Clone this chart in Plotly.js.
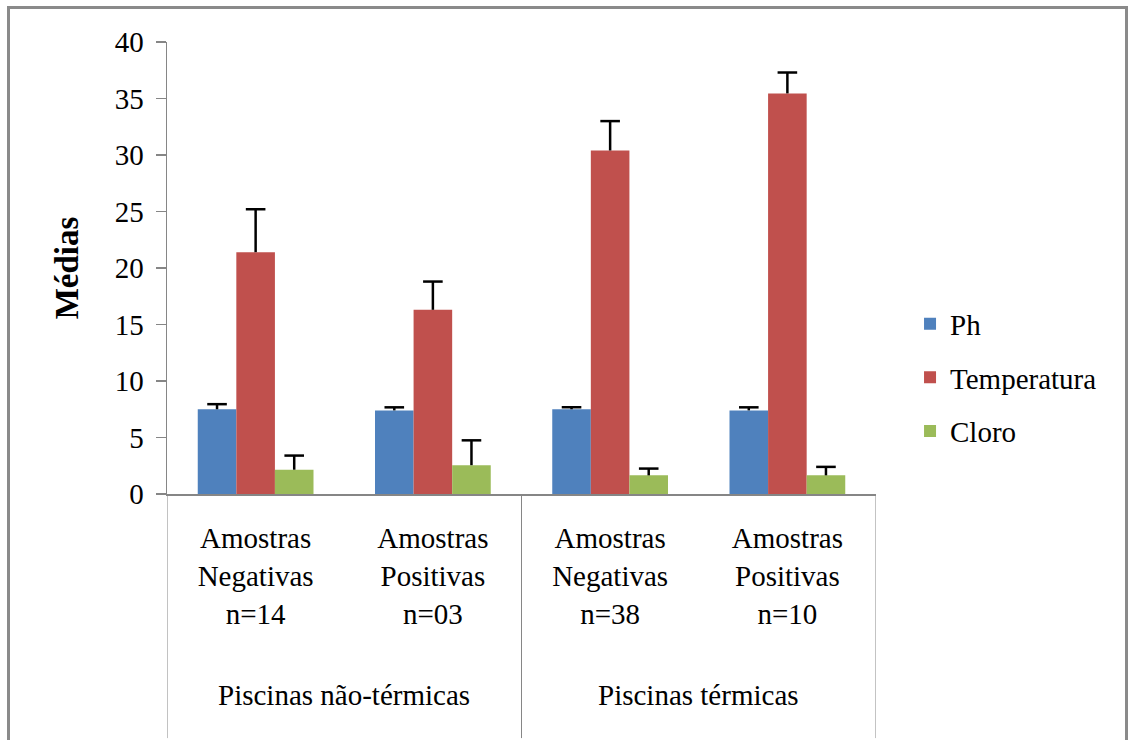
<!DOCTYPE html>
<html>
<head>
<meta charset="utf-8">
<script src="https://cdn.plot.ly/plotly-3.0.1.min.js"></script>
<style>
  html, body { margin: 0; padding: 0; background: #fff; }
  #chart { position: absolute; left: 0; top: 0; width: 1135px; height: 740px; }
  #frame { position: absolute; left: 7px; top: 6px; width: 1121px; height: 760px;
           border: 3px solid #8a8a8a; pointer-events: none; box-sizing: border-box; }
</style>
</head>
<body>
<div id="chart"></div>
<div id="frame"></div>
<script>
const categories = [
  "Amostras<br>Negativas<br>n=14",
  "Amostras<br>Positivas<br>n=03",
  "Amostras<br>Negativas<br>n=38",
  "Amostras<br>Positivas<br>n=10"
];
const groups = ["Piscinas não-térmicas", "Piscinas térmicas"];
const groupCenters = [0.5, 2.5];
const groupDividers = [-0.5, 1.5, 3.5];

const seriesNames = ["Ph", "Temperatura", "Cloro"];
const phValues = [7.5, 7.4, 7.5, 7.4];
const phErrors = [0.45, 0.27, 0.18, 0.27];
const tempValues = [21.4, 16.3, 30.4, 35.45];
const tempErrors = [3.8, 2.5, 2.6, 1.85];
const cloroValues = [2.15, 2.55, 1.65, 1.65];
const cloroErrors = [1.25, 2.2, 0.6, 0.75];
const colors = ["#4F81BD", "#C0504D", "#9BBB59"];

const FONT = "Liberation Serif";
const FS = 29;
const values = [phValues, tempValues, cloroValues];
const errors = [phErrors, tempErrors, cloroErrors];

const barTraces = seriesNames.map((name, i) => ({
  type: "bar",
  name: name,
  x: categories,
  y: values[i],
  legendgroup: "g" + i,
  marker: { color: colors[i], line: { width: 0 } },
  error_y: {
    type: "data", array: errors[i], arrayminus: errors[i].map(() => 0),
    symmetric: false, color: "#000", thickness: 2.5, width: 0, visible: true
  },
  hoverinfo: "skip"
}));

// caps of the error bars (top only), grouped like the bars
const capTraces = seriesNames.map((name, i) => ({
  type: "scatter",
  mode: "markers",
  name: name + " cap",
  x: categories,
  y: values[i].map((v, k) => v + errors[i][k]),
  showlegend: false,
  marker: { symbol: "line-ew", size: 14, color: "#000", line: { color: "#000", width: 2.5 } },
  hoverinfo: "skip"
}));

const shapes = groupDividers.map(x => ({
  type: "line", xref: "x", yref: "paper", x0: x, x1: x, y0: 0, y1: -0.54,
  line: { color: "#868686", width: 1 }
}));

const annotations = groups.map((g, i) => ({
  text: g, x: groupCenters[i], xref: "x", y: -0.445, yref: "paper",
  showarrow: false, xanchor: "center", yanchor: "middle",
  font: { family: FONT, size: FS, color: "#000" }
}));

const layout = {
  width: 1135, height: 740,
  margin: { l: 167, r: 259, t: 42, b: 246 },
  paper_bgcolor: "#fff", plot_bgcolor: "#fff",
  barmode: "group", bargap: 0.347, bargroupgap: 0,
  scattermode: "group", scattergap: 0.347,
  xaxis: {
    type: "category", range: [-0.5, 3.5],
    showline: true, linecolor: "#868686", linewidth: 1.5,
    ticks: "", showgrid: false, zeroline: false,
    tickfont: { family: FONT, size: FS, color: "#000" },
    ticklabelstandoff: 18
  },
  yaxis: {
    range: [0, 40], dtick: 5, tick0: 0,
    showline: true, linecolor: "#868686", linewidth: 1.5,
    ticks: "outside", ticklen: 10, tickcolor: "#868686", tickwidth: 1.5,
    showgrid: false, zeroline: false, ticklabelstandoff: 6,
    tickfont: { family: FONT, size: FS, color: "#000" },
    title: { text: "<b>Médias</b>", font: { family: FONT, size: 33, color: "#000" }, standoff: 26 }
  },
  legend: {
    x: 1.048, xanchor: "left", y: 0.433, yanchor: "top",
    font: { family: FONT, size: FS, color: "#000" },
    tracegroupgap: 13, bgcolor: "rgba(0,0,0,0)"
  },
  showlegend: true,
  shapes: shapes,
  annotations: annotations
};

Plotly.newPlot("chart", barTraces.concat(capTraces), layout, { displayModeBar: false, staticPlot: true });
</script>
</body>
</html>
